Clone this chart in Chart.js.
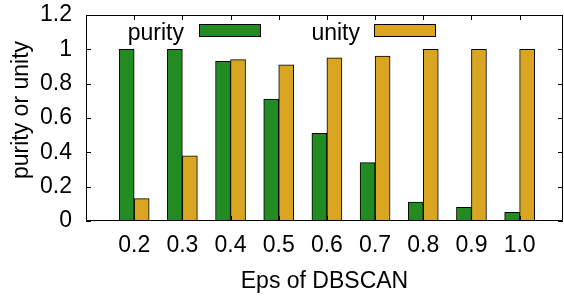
<!DOCTYPE html>
<html>
<head>
<meta charset="utf-8">
<script src="https://cdn.jsdelivr.net/npm/chart.js@4"></script>
<style>
    body { margin: 0; background: #fff; }
    #wrap { width: 564px; height: 297px; }
</style>
</head>
<body>
<div id="wrap"><canvas id="chart" width="564" height="297"></canvas></div>
<script>
const categories = ['0.2', '0.3', '0.4', '0.5', '0.6', '0.7', '0.8', '0.9', '1.0'];
const purity = [1.0, 1.0, 0.93, 0.71, 0.51, 0.34, 0.11, 0.08, 0.05];
const unity = [0.13, 0.38, 0.94, 0.91, 0.95, 0.96, 1.0, 1.0, 1.0];
const yTicks = [0, 0.2, 0.4, 0.6, 0.8, 1, 1.2];

const FONT = 'Liberation Sans, Arial, Helvetica, sans-serif';

// no extra room for labels that hang over the plot edges
const noPadding = scale => {
    scale.paddingTop = 0;
    scale.paddingBottom = 0;
    scale.paddingLeft = 0;
    scale.paddingRight = 0;
};

// gnuplot style frame: box round the plot, ticks pointing inward, key inside
const gnuplotFrame = {
    id: 'gnuplotFrame',
    afterDatasetsDraw(chart) {
        const { ctx, chartArea: a, scales: { x, y } } = chart;
        ctx.save();
        ctx.strokeStyle = '#000';
        ctx.lineWidth = 1;
        ctx.beginPath();
        ctx.rect(a.left + 0.5, a.top + 0.5, a.right - a.left - 1, a.bottom - a.top - 1);
        const t = 5;
        yTicks.forEach(v => {
            const py = Math.round(y.getPixelForValue(v)) + 0.5;
            ctx.moveTo(a.left, py); ctx.lineTo(a.left + t, py);
            ctx.moveTo(a.right, py); ctx.lineTo(a.right - t, py);
        });
        categories.forEach((c, i) => {
            const px = Math.round(x.getPixelForValue(i)) + 0.5;
            ctx.moveTo(px, a.top); ctx.lineTo(px, a.top + t);
            ctx.moveTo(px, a.bottom); ctx.lineTo(px, a.bottom - t);
        });
        ctx.stroke();

        // key
        ctx.font = '23px ' + FONT;
        ctx.textAlign = 'right';
        ctx.textBaseline = 'alphabetic';
        const keys = [{ textRight: 184, box: 199 }, { textRight: 360, box: 374 }];
        chart.data.datasets.forEach((ds, i) => {
            const k = keys[i];
            ctx.fillStyle = '#000';
            ctx.fillText(ds.label, k.textRight, 40);
            ctx.fillStyle = ds.backgroundColor;
            ctx.fillRect(k.box, 24, 62, 13);
            ctx.strokeRect(k.box + 0.5, 24.5, 61, 12);
        });

        // y axis title
        ctx.translate(22, 110);
        ctx.rotate(-Math.PI / 2);
        ctx.textAlign = 'center';
        ctx.textBaseline = 'middle';
        ctx.fillStyle = '#000';
        ctx.fillText('purity or unity', 0, 0);
        ctx.restore();
    }
};

new Chart(document.getElementById('chart').getContext('2d'), {
    type: 'bar',
    data: {
        datasets: [
            {
                label: 'purity',
                data: categories.map((c, i) => ({ x: i, y: purity[i] })),
                backgroundColor: '#228B22',
                borderColor: '#000',
                borderWidth: 1,
                barThickness: 15
            },
            {
                label: 'unity',
                data: categories.map((c, i) => ({ x: i, y: unity[i] })),
                backgroundColor: '#DAA520',
                borderColor: '#000',
                borderWidth: 1,
                barThickness: 15
            }
        ]
    },
    plugins: [gnuplotFrame],
    options: {
        responsive: false,
        animation: false,
        devicePixelRatio: 1,
        layout: { padding: { top: 15, right: 1, left: 0, bottom: 0 } },
        plugins: {
            legend: { display: false },
            tooltip: { enabled: false }
        },
        scales: {
            x: {
                type: 'linear',
                min: -1,
                max: 8.9,
                offset: false,
                grid: { display: false, drawTicks: false, offset: false },
                border: { display: false },
                afterBuildTicks: scale => {
                    scale.ticks = categories.map((c, i) => ({ value: i }));
                },
                afterFit: scale => { scale.height = 76; noPadding(scale); },
                ticks: {
                    autoSkip: false,
                    maxRotation: 0,
                    padding: 11,
                    color: '#000',
                    font: { family: FONT, size: 23 },
                    callback: v => categories[v]
                },
                title: {
                    display: true,
                    text: 'Eps of DBSCAN',
                    color: '#000',
                    font: { family: FONT, size: 23 },
                    padding: { top: 0, bottom: 2 }
                }
            },
            y: {
                min: 0,
                max: 1.2,
                grid: { display: false, drawTicks: false },
                border: { display: false },
                afterBuildTicks: scale => {
                    scale.ticks = yTicks.map(v => ({ value: v }));
                },
                afterFit: scale => { scale.width = 86; noPadding(scale); },
                ticks: {
                    padding: 14,
                    color: '#000',
                    font: { family: FONT, size: 23 },
                    callback: v => String(v)
                }
            }
        }
    }
});
</script>
</body>
</html>
